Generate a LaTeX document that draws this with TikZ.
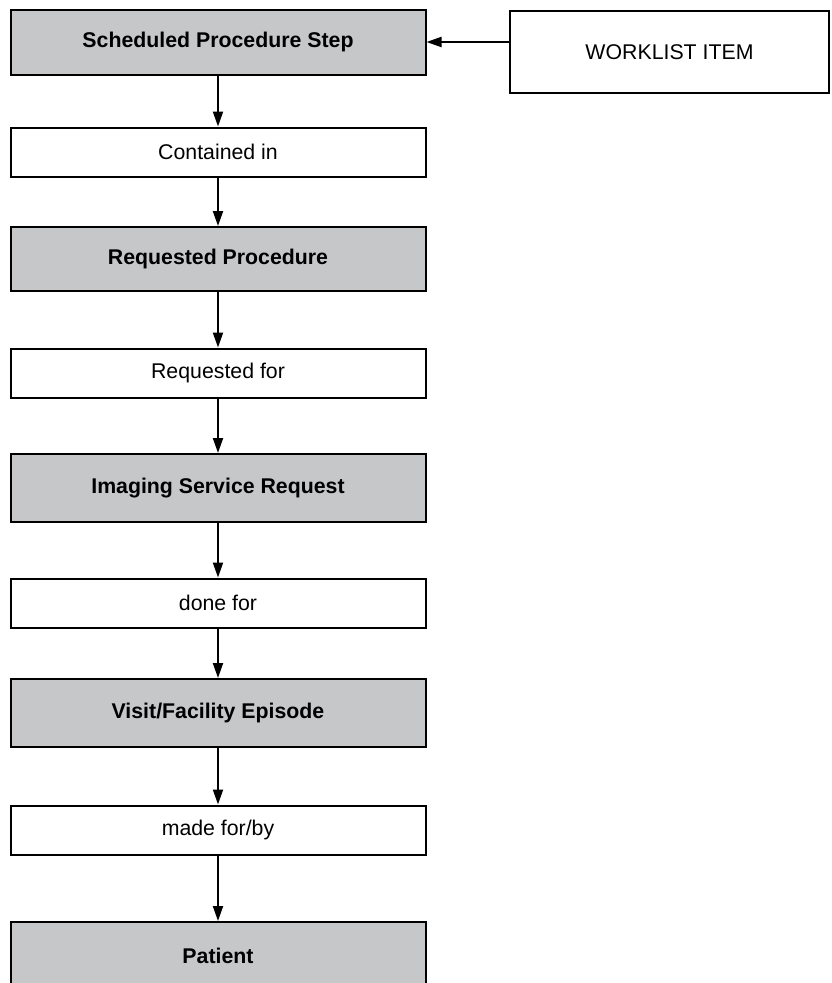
\documentclass[tikz,border=0pt]{standalone}
\usepackage{fontspec}
\setmainfont{Liberation Sans}
\usetikzlibrary{positioning, arrows.meta}
\definecolor{boxgrey}{HTML}{C6C7C9}

\begin{document}
\begin{tikzpicture}[x=1pt, y=-1pt,
  font=\fontsize{21.3}{25}\selectfont,
  base/.style={draw, line width=2pt, minimum width=415pt, inner sep=0pt},
  entity/.style={base, fill=boxgrey, font=\fontsize{21.3}{25}\selectfont\bfseries},
  relation/.style={base, fill=white, minimum height=49pt},
  arr/.style={line width=2pt, -{Triangle[length=15pt, width=10pt]}}]
\clip (0,0) rectangle (831,983);
\fill[white] (0,0) rectangle (831,983);
\node (SPS) [entity, minimum height=65pt] at (218,42) {Scheduled Procedure Step};
\node (WL) [base, fill=white, minimum width=319pt, minimum height=82pt] at (669.5,52) {WORKLIST ITEM};
\node (CI) [relation] at (218,152) {Contained in};
\node (RP) [entity, minimum height=64pt] at (218,259) {Requested Procedure};
\node (RF) [relation] at (218,373) {Requested for};
\node (ISR) [entity, minimum height=68pt] at (218,488) {Imaging Service Request};
\node (DF) [relation] at (218,603) {done for};
\node (VFE) [entity, minimum height=68pt] at (218,713) {Visit/Facility Episode};
\node (MF) [relation] at (218,830) {made for/by};
\node (P) [entity, minimum height=68pt] at (218,956) {Patient};
\draw[arr] (SPS.east -| WL.west) -- (SPS.east);
\draw[arr] (SPS) -- (CI);
\draw[arr] (CI) -- (RP);
\draw[arr] (RP) -- (RF);
\draw[arr] (RF) -- (ISR);
\draw[arr] (ISR) -- (DF);
\draw[arr] (DF) -- (VFE);
\draw[arr] (VFE) -- (MF);
\draw[arr] (MF) -- (P);
\end{tikzpicture}
\end{document}
